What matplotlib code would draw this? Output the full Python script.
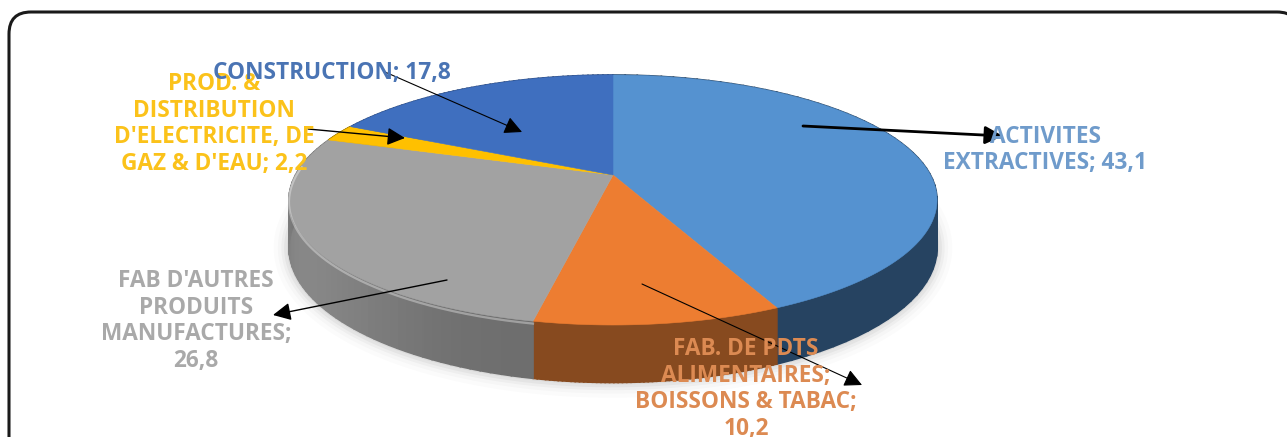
import numpy as np
import matplotlib
matplotlib.use('Agg')
import matplotlib.pyplot as plt
from matplotlib.patches import FancyBboxPatch, Polygon

plt.rcParams['font.family'] = ['Open Sans', 'DejaVu Sans']

labels = ['ACTIVITES\nEXTRACTIVES; 43,1',
          'FAB. DE PDTS\nALIMENTAIRES;\nBOISSONS & TABAC;\n10,2',
          "FAB D'AUTRES\nPRODUITS\nMANUFACTURES;\n26,8",
          "PROD. &\nDISTRIBUTION\nD'ELECTRICITE, DE\nGAZ & D'EAU; 2,2",
          'CONSTRUCTION; 17,8']
values = [43.1, 10.2, 26.8, 2.2, 17.8]
colors = ['#5592d0', '#ed7d31', '#a2a2a2', '#ffc000', '#3f6fbf']
side_colors = ['#264361', '#874a1f', '#7d7d7d', '#a37c00', '#2b4a80']
label_colors = ['#6f9bcb', '#dc8a52', '#a9a9a9', '#fbc21a', '#4a74b4']

# centre du camembert et perspective, en pixels
CX, CY = 613, 175
A, B, K = 317.5, 120, 0.2
DEPTH = 46


def project(theta, depth=0.0):
    u, v = np.sin(theta), np.cos(theta)
    d = 1 + K * v
    return CX + A * u / d, CY - B * v / d + depth / d


fig = plt.figure(figsize=(12.87, 4.37), dpi=100)
ax = fig.add_axes([0, 0, 1, 1])
ax.set_xlim(0, 1287)
ax.set_ylim(437, 0)
ax.axis('off')

# cadre arrondi
frame = FancyBboxPatch((9, 12), 1290, 450, boxstyle='round,pad=0,rounding_size=22',
                       fc='white', ec='#1a1a1a', lw=2.2, zorder=1)
ax.add_patch(frame)

# angles des parts
fractions = np.array(values) / sum(values)
edges = np.concatenate([[0], np.cumsum(fractions)]) * 2 * np.pi

# ombre douce sous le disque
tt = np.linspace(0, 2 * np.pi, 400)
sx, sy = project(tt, DEPTH)
for lw, alpha in zip([22, 16, 11, 7, 3], [0.015, 0.02, 0.03, 0.04, 0.04]):
    ax.plot(sx, sy, color='black', lw=lw, alpha=alpha, zorder=2, solid_capstyle='round')

# flancs
for i in range(len(values)):
    t = np.linspace(edges[i], edges[i + 1], 60)
    base = np.array(matplotlib.colors.to_rgb(side_colors[i]))
    for j in range(len(t) - 1):
        seg = np.array([t[j], t[j + 1], t[j + 1], t[j]])
        dd = np.array([0, 0, DEPTH, DEPTH])
        x, y = project(seg, dd)
        shade = 1.0
        if i == 2:
            # reflet progressif sur le flanc gris
            shade = 0.88 + 0.2 * (np.sin((t[j] - edges[2]) / (edges[3] - edges[2]) * np.pi)) ** 2
        col = np.clip(base * shade, 0, 1)
        ax.add_patch(Polygon(np.column_stack([x, y]), fc=col, ec=col, lw=1.2, zorder=3))

# dessus des parts
for i in range(len(values)):
    t = np.linspace(edges[i], edges[i + 1], 120)
    x, y = project(t)
    pts = np.column_stack([np.r_[CX, x], np.r_[CY, y]])
    ax.add_patch(Polygon(pts, fc=colors[i], ec=colors[i], lw=0.4, zorder=4))

# biseau clair sur le bord avant
t = np.linspace(edges[2], edges[2] + 1.45, 200)
x, y = project(t, 2)
ax.plot(x, y, color='white', lw=1.6, alpha=0.35, zorder=5)

# fleches
arrows = [((803, 126), (1003, 136), 2.0),
          ((642, 284), (862, 385), 0.8),
          ((447, 280), (273, 315), 1.0),
          ((308, 129), (405, 138), 1.0),
          ((385, 72), (522, 132), 0.8)]
for start, end, lw in arrows:
    ax.annotate('', xy=end, xytext=start, zorder=7,
                arrowprops=dict(arrowstyle='-|>,head_length=0.9,head_width=0.45',
                                color='black', lw=lw,
                                mutation_scale=12, shrinkA=0, shrinkB=0))

# etiquettes
label_pos = [(1045, 150), (746, 389), (196, 321), (214, 124), (332, 73)]
for lab, c, (lx, ly) in zip(labels, label_colors, label_pos):
    ax.text(lx, ly, lab, color=c, fontsize=16.3, fontweight='bold', ha='center',
            va='center', linespacing=1.14, zorder=8)

fig.savefig('out.png', dpi=100)
